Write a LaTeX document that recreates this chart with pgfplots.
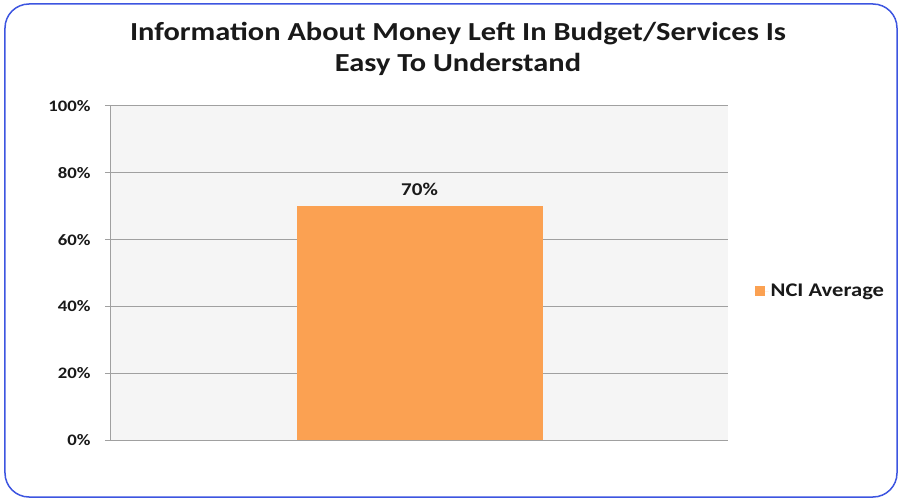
\documentclass[border=0pt]{standalone}
\usepackage{pgfplots}
\pgfplotsset{compat=1.18}
\usepackage{fontspec}
\setmainfont{Carlito}[FakeStretch=1.17]
\definecolor{barorange}{HTML}{FBA152}
\definecolor{framblue}{HTML}{3D55E0}
\definecolor{gridgray}{HTML}{A0A0A0}
\definecolor{plotbg}{HTML}{F5F5F5}
\begin{document}
\begin{tikzpicture}[x=1pt,y=1pt]
\useasboundingbox (-111,-59) rectangle (787,440);
\draw[framblue, line width=1.5pt, rounded corners=24pt] (-106,-57) rectangle (786,436);
\begin{axis}[
  scale only axis, width=617pt, height=334pt,
  xmin=-0.5, xmax=0.5, ymin=0, ymax=100,
  axis background/.style={fill=plotbg},
  axis lines*=left,
  axis line style={gridgray, line width=1pt},
  xtick=\empty,
  ytick={0,20,40,60,80,100},
  yticklabels={0\%,20\%,40\%,60\%,80\%,100\%},
  yticklabel style={font=\fontsize{16}{18}\selectfont\bfseries, text=black!90, xshift=-11pt},
  tick align=outside, major tick length=6pt,
  tick style={gridgray, line width=1pt},
  ymajorgrids, grid style={gridgray, line width=1pt},
  ybar, bar width=246pt,
  /pgf/number format/assume math mode=true,
  nodes near coords={\pgfmathprintnumber{\pgfplotspointmeta}\%},
  nodes near coords style={font=\fontsize{18}{20}\selectfont\bfseries, text=black!90, yshift=7pt},
  legend style={at={(1.038,0.446)}, anchor=west, draw=none, fill=none,
    font=\fontsize{19.3}{21}\selectfont\bfseries, text=black!90},
  legend image code/.code={\fill[barorange] (0pt,-5pt) rectangle (10pt,5pt);\path (0pt,0pt) -- (14pt,0pt);},
]
\addplot[fill=barorange, draw=none] coordinates {(0,70)};
\addlegendentry{NCI Average}
\end{axis}
\node[align=center, font=\fontsize{26}{31}\selectfont\bfseries, text=black!90] at (347,391.5)
  {Information About Money Left In Budget/Services Is\\Easy To Understand};
\end{tikzpicture}
\end{document}
